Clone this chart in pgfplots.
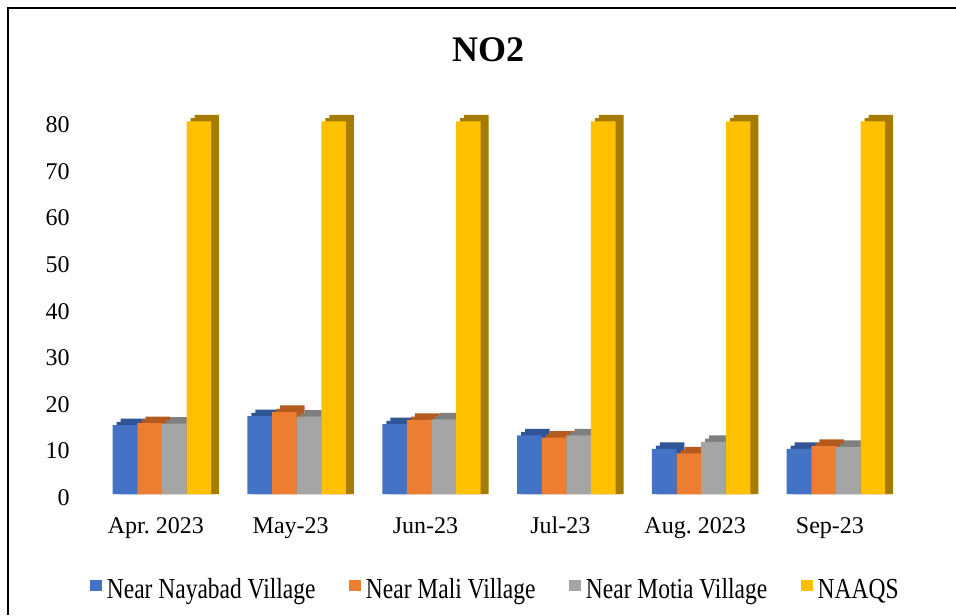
\documentclass[border=0pt]{standalone}
\usepackage{fontspec}
\setmainfont{Liberation Serif}
\newfontfamily\legfont[FakeStretch=0.81]{Liberation Serif}
\usepackage{pgfplots}
\usepackage{pgfplotstable}
\pgfplotsset{compat=1.18}
\frenchspacing
\definecolor{cblue}{HTML}{4472C4}
\definecolor{corange}{HTML}{ED7D31}
\definecolor{cgray}{HTML}{A5A5A5}
\definecolor{cgold}{HTML}{FFC000}
\definecolor{dblue}{HTML}{2F5597}
\definecolor{dorange}{HTML}{B55A1E}
\definecolor{dgray}{HTML}{7F7F7F}
\definecolor{dgold}{HTML}{A67C00}
\pgfplotstableread{
x blue orange gray naaqs
0 14.8 15.2 15.1 80
1 16.7 17.6 16.6 80
2 15.0 15.9 16.0 80
3 12.6 12.1 12.6 80
4 9.7 8.7 11.2 80
5 9.7 10.3 10.1 80
}\datatable
\begin{document}
\begin{tikzpicture}
\useasboundingbox (-40.5pt,-60.5pt) rectangle (437.5pt,247pt);
\draw[line width=1.3pt] (-36.5pt,-60.5pt) -- (-36.5pt,243pt) -- (437.5pt,243pt);
\node[font=\fontsize{18pt}{20pt}\selectfont\bfseries, anchor=base] at (203.5pt,216pt) {NO2};
\begin{axis}[
  at={(0,0)}, anchor=south west,
  scale only axis,
  width=417.9pt, height=191pt,
  xmin=-0.6, xmax=5.6,
  ymin=0, ymax=82,
  clip=false,
  axis line style={draw=none},
  major tick length=0pt,
  ytick={0,10,20,30,40,50,60,70,80},
  yticklabels={0,10,20,30,40,50,60,70,80},
  xtick={0,1,2,3,4,5},
  xticklabels={Apr.\ 2023, May-23, Jun-23, Jul-23, Aug.\ 2023, Sep-23},
  ticklabel style={font=\rmfamily\fontsize{12pt}{14pt}\selectfont},
  xticklabel style={anchor=base, inner sep=0pt, yshift=-19.5pt, xshift=-3pt},
  yticklabel style={anchor=east, inner sep=0pt, xshift=-5.5pt, yshift=-1.75pt},
  ybar, bar width=0.1825,
  legend columns=4,
  legend style={draw=none, fill=none, inner sep=0pt,
    at={(0.4947,-0.2513)}, anchor=base,
    nodes={inner sep=0pt, font=\legfont\fontsize{14.5pt}{16pt}\selectfont},
    /tikz/every odd column/.style={column sep=2.5pt},
    /tikz/every even column/.style={column sep=17pt}},
  legend image code/.code={\fill[#1] (0pt,-0.5pt) rectangle (5.75pt,5.25pt);},
]
% blue
\addplot[fill=dblue, draw=none, bar shift=-0.274+0.0593, forget plot] table[x=x, y expr=\thisrow{blue}+1.4] {\datatable};
\addplot[fill=dblue, draw=none, bar shift=-0.274+0.0297, forget plot] table[x=x, y expr=\thisrow{blue}+0.7] {\datatable};
\addplot[fill=cblue, draw=none, bar shift=-0.274] table[x=x, y=blue] {\datatable};
% orange
\addplot[fill=dorange, draw=none, bar shift=-0.091+0.0593, forget plot] table[x=x, y expr=\thisrow{orange}+1.4] {\datatable};
\addplot[fill=dorange, draw=none, bar shift=-0.091+0.0297, forget plot] table[x=x, y expr=\thisrow{orange}+0.7] {\datatable};
\addplot[fill=corange, draw=none, bar shift=-0.091] table[x=x, y=orange] {\datatable};
% gray
\addplot[fill=dgray, draw=none, bar shift=0.091+0.0593, forget plot] table[x=x, y expr=\thisrow{gray}+1.4] {\datatable};
\addplot[fill=dgray, draw=none, bar shift=0.091+0.0297, forget plot] table[x=x, y expr=\thisrow{gray}+0.7] {\datatable};
\addplot[fill=cgray, draw=none, bar shift=0.091] table[x=x, y=gray] {\datatable};
% NAAQS
\addplot[fill=dgold, draw=none, bar shift=0.274+0.0593, forget plot] table[x=x, y expr=\thisrow{naaqs}+1.4] {\datatable};
\addplot[fill=dgold, draw=none, bar shift=0.274+0.0297, forget plot] table[x=x, y expr=\thisrow{naaqs}+0.7] {\datatable};
\addplot[fill=cgold, draw=none, bar shift=0.274] table[x=x, y=naaqs] {\datatable};
\legend{Near Nayabad Village, Near Mali Village, Near Motia Village, NAAQS}
\end{axis}
\end{tikzpicture}
\end{document}
